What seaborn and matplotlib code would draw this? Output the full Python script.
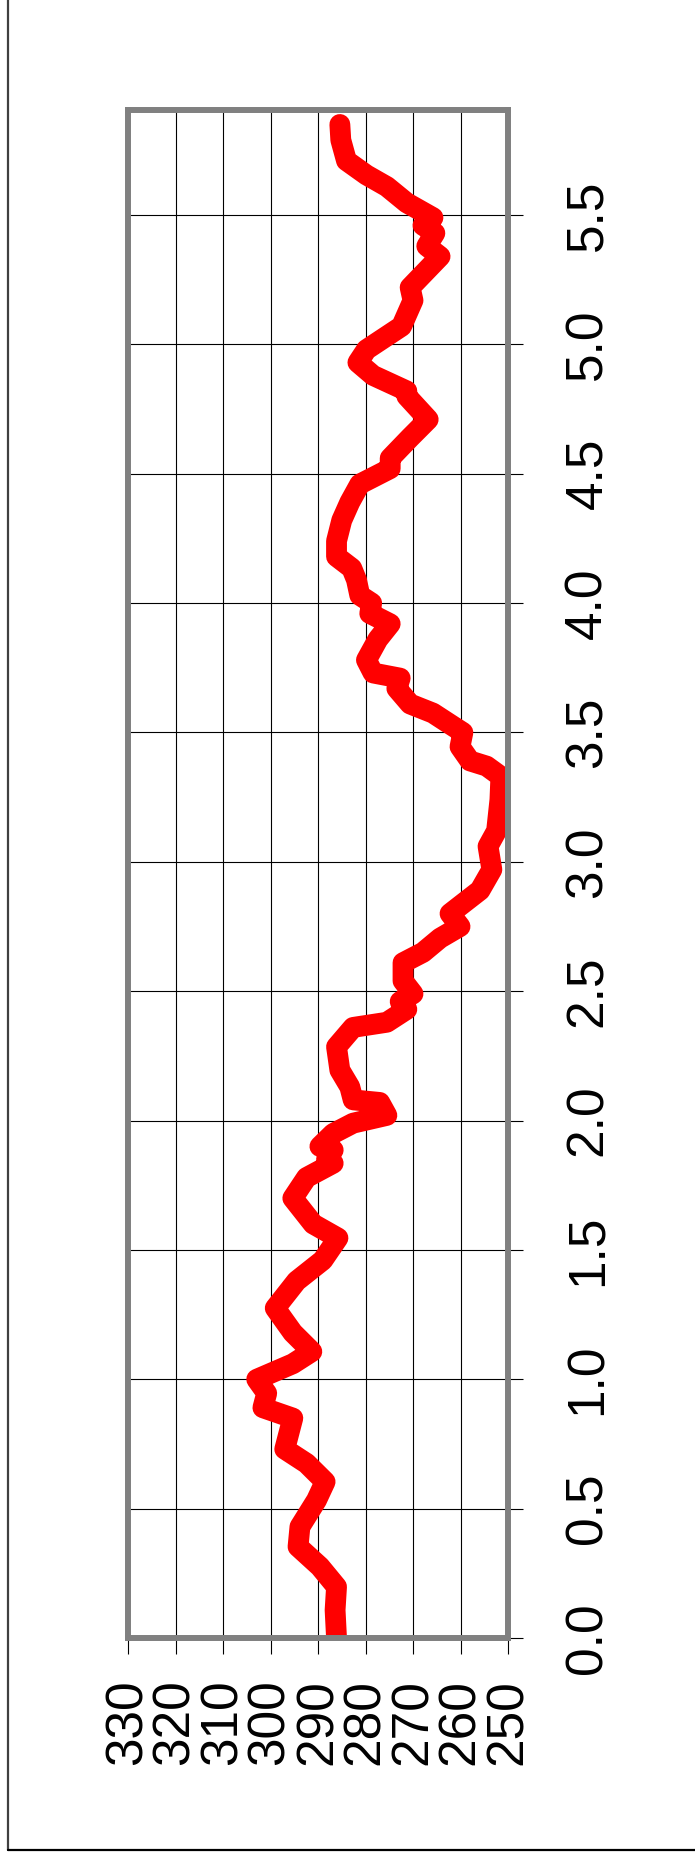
import numpy as np
import pandas as pd
import matplotlib
matplotlib.use("Agg")
import matplotlib.pyplot as plt
from matplotlib.lines import Line2D
import seaborn as sns

age = [5.85, 5.79, 5.71, 5.655, 5.61, 5.547, 5.49, 5.46, 5.43, 5.38, 5.34, 5.22, 5.17,
       5.07, 4.98, 4.93, 4.88, 4.82, 4.80, 4.71, 4.64, 4.56, 4.52, 4.46, 4.39, 4.32,
       4.24, 4.18, 4.135, 4.09, 4.03, 4.00, 3.96, 3.92, 3.86, 3.78, 3.73, 3.71, 3.67,
       3.61, 3.575, 3.52, 3.50, 3.445, 3.39, 3.37, 3.33, 3.24, 3.12, 3.06, 2.97, 2.89,
       2.85, 2.80, 2.75, 2.705, 2.65, 2.61, 2.54, 2.49, 2.46, 2.43, 2.38, 2.36, 2.285,
       2.195, 2.13, 2.08, 2.07, 2.02, 1.99, 1.95, 1.90, 1.886, 1.85, 1.835, 1.78, 1.70,
       1.60, 1.546, 1.46, 1.38, 1.275, 1.18, 1.107, 1.06, 1.00, 0.946, 0.89, 0.85, 0.73,
       0.675, 0.604, 0.533, 0.43, 0.353, 0.276, 0.198, 0.108, 0.0]
value = [285.4, 285.2, 284.0, 279.8, 275.5, 271.3, 265.8, 267.9, 265.4, 267.1, 264.3, 270.6,
         270.0, 272.4, 279.8, 281.6, 278.4, 271.3, 271.3, 266.8, 270.6, 274.8, 274.8, 281.2,
         283.3, 285.0, 286.1, 286.1, 282.9, 281.9, 281.2, 278.7, 279.1, 274.8, 277.4, 279.8,
         278.4, 272.7, 273.4, 270.6, 265.8, 261.2, 259.5, 260.1, 258.0, 254.5, 251.5, 251.7,
         252.4, 254.2, 253.4, 255.9, 258.7, 262.2, 260.1, 264.3, 267.9, 272.1, 272.1, 270.0,
         272.7, 271.3, 275.5, 282.6, 286.1, 285.4, 283.3, 282.6, 277.0, 275.5, 282.6, 286.8,
         289.6, 286.8, 288.2, 286.8, 292.4, 295.3, 291.0, 285.8, 289.0, 294.5, 299.0, 295.3,
         291.3, 295.3, 302.9, 300.8, 301.6, 295.3, 297.0, 292.4, 288.5, 290.3, 293.8, 294.2,
         289.6, 286.1, 286.4, 286.1]

value_ticks = [330, 320, 310, 300, 290, 280, 270, 260, 250]
age_ticks = [0.0, 0.5, 1.0, 1.5, 2.0, 2.5, 3.0, 3.5, 4.0, 4.5, 5.0, 5.5]

df = pd.DataFrame({"age": age, "value": value})

sns.set_style("white")
plt.rcParams["font.family"] = ["Liberation Sans", "DejaVu Sans"]
plt.rcParams["text.color"] = "black"
plt.rcParams["xtick.color"] = "black"
plt.rcParams["ytick.color"] = "black"

fig = plt.figure(figsize=(6.95, 18.62), dpi=100)
ax = fig.add_axes([128 / 695, 224 / 1862, 380 / 695, 1528 / 1862])

sns.lineplot(data=df, x="value", y="age", sort=False, estimator=None, ax=ax,
             color="#ff0000", linewidth=15, solid_capstyle="round",
             solid_joinstyle="round", zorder=3)

ax.set_xlim(330, 250)
ax.set_ylim(0, 5.906)
ax.set_xticks(value_ticks)
ax.set_yticks(age_ticks)
ax.set_xticklabels([str(v) for v in value_ticks])
ax.set_yticklabels([f"{a:.1f}" for a in age_ticks])
ax.set_xlabel("")
ax.set_ylabel("")

ax.grid(True, color="black", linewidth=0.8)
ax.set_axisbelow(True)

for side in ["left", "right", "top", "bottom"]:
    ax.spines[side].set_visible(True)
    ax.spines[side].set_color("#808080")
    ax.spines[side].set_linewidth(4.3)
    ax.spines[side].set_zorder(4)

ax.yaxis.tick_right()
ax.tick_params(axis="x", bottom=True, direction="out", length=11.5, width=0.8,
               color="black", labelcolor="black", pad=18, labelsize=37, labelrotation=90)
ax.tick_params(axis="y", right=True, left=False, direction="out", length=11, width=0.8,
               color="black", labelcolor="black", pad=29, labelsize=37, labelrotation=90)
for lab in ax.get_yticklabels():
    lab.set_va("center")

# page border, left and bottom edges
fig.add_artist(Line2D([8 / 695, 8 / 695], [12 / 1862, 1.0], transform=fig.transFigure,
                      color="#404040", linewidth=1.6))
fig.add_artist(Line2D([8 / 695, 1.0], [12 / 1862, 12 / 1862], transform=fig.transFigure,
                      color="black", linewidth=1.6))

fig.savefig("out.png", dpi=100, facecolor="white")
